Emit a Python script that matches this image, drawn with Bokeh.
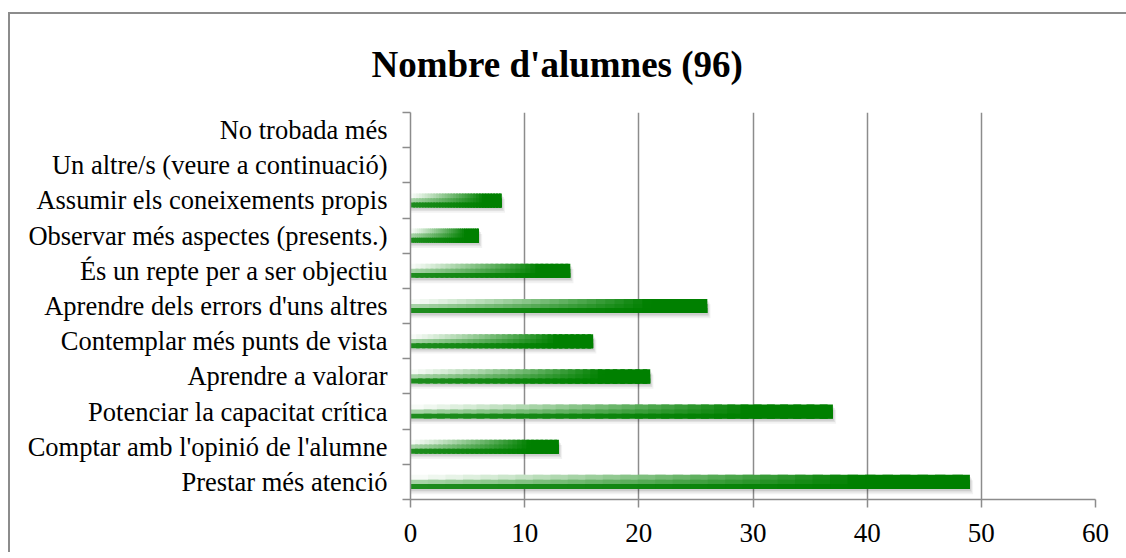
from bokeh.plotting import figure
from bokeh.models import ColumnDataSource, Range1d, FixedTicker
from bokeh.embed import file_html
from bokeh.resources import INLINE

# ---- data (bottom to top) ----
categories = [
    "Prestar més atenció",
    "Comptar amb l'opinió de l'alumne",
    "Potenciar la capacitat crítica",
    "Aprendre a valorar",
    "Contemplar més punts de vista",
    "Aprendre dels errors d'uns altres",
    "És un repte per a ser objectiu",
    "Observar més aspectes (presents.)",
    "Assumir els coneixements propis",
    "Un altre/s (veure a continuació)",
    "No trobada més",
]
values = [49, 13, 37, 21, 16, 26, 14, 6, 8, 0, 0]
x_ticks = [0, 10, 20, 30, 40, 50, 60]
title_text = "Nombre d'alumnes (96)"

GREEN = (0, 128, 0)


def mix(c1, c2, t):
    t = max(0.0, min(1.0, t))
    r = [round(a + (b - a) * t) for a, b in zip(c1, c2)]
    return "#%02x%02x%02x" % tuple(r)


ypos = list(range(1, len(categories) + 1))

# gradient segments built from the data values
N = 32
BAR_H = 0.40
BANDS = [  # (height, start colour at left), top to bottom
    (0.14, (250, 253, 250)),
    (0.12, (168, 212, 168)),
    (0.14, (30, 140, 30)),
]
seg = dict(y=[], h=[], left=[], right=[], c=[])
shadow = dict(y=[], right=[])
for y, v in zip(ypos, values):
    if v <= 0:
        continue
    shadow["y"].append(y)
    shadow["right"].append(v)
    bottom = y - BAR_H / 2
    top = y + BAR_H / 2
    for bh, c0 in BANDS:
        # each band reaches down to the bar bottom; later bands cover it
        h = top - bottom
        yc = bottom + h / 2
        top -= bh
        for k in range(N):
            t = (k + 0.5) / N
            f = min(1.0, t / 0.8) ** 1.1
            seg["y"].append(yc)
            seg["h"].append(h)
            seg["left"].append(v * k / N)
            seg["right"].append(min(v, v * (k + 1.6) / N))
            seg["c"].append(mix(c0, GREEN, f))

src = ColumnDataSource(seg)

p = figure(
    width=1120, height=540,
    x_range=Range1d(0, 60), y_range=Range1d(0.5, len(categories) + 0.5),
    output_backend="svg", toolbar_location=None,
    min_border_left=400, min_border_right=35, min_border_top=94, min_border_bottom=55,
)
p.styles = {
    "margin-top": "12px", "margin-left": "8px",
    "border-top": "2px solid #8c8c8c", "border-left": "2px solid #8c8c8c",
}
p.outline_line_color = None
p.background_fill_color = "white"
p.border_fill_color = "white"

# title
p.title.text = title_text
p.title.text_font = "Liberation Serif"
p.title.text_font_style = "bold"
p.title.text_font_size = "37px"
p.title.align = "left"
p.title.offset = -39
p.title.standoff = 55
p.title.text_color = "black"

# soft shadow
shadow_layers = [(0.15, 0.28, 0.05), (0.10, 0.18, 0.07), (0.06, 0.09, 0.08)]
for dy, dx, a in shadow_layers:
    s = ColumnDataSource(dict(y=[yy - dy for yy in shadow["y"]],
                              right=[r + dx for r in shadow["right"]]))
    p.hbar(y="y", left=0, right="right", height=BAR_H, source=s,
           fill_color="#000000", fill_alpha=a, line_color=None)
# gradient bars
p.hbar(y="y", left="left", right="right", height="h", source=src,
       fill_color="c", line_color=None)

# grid
p.ygrid.grid_line_color = None
p.xgrid.ticker = FixedTicker(ticks=x_ticks)
p.xgrid.grid_line_color = "#8c8c8c"
p.xgrid.grid_line_width = 1.5

# x axis
xa = p.xaxis[0]
xa.ticker = FixedTicker(ticks=x_ticks)
xa.axis_line_color = "#8c8c8c"
xa.axis_line_width = 1.5
xa.major_tick_line_color = "#8c8c8c"
xa.major_tick_line_width = 1.5
xa.major_tick_out = 8
xa.major_tick_in = 0
xa.minor_tick_line_color = None
xa.major_label_text_font = "Liberation Serif"
xa.major_label_text_font_size = "27px"
xa.major_label_text_color = "black"
xa.major_label_standoff = 16

# y axis: labels at category centres, ticks at boundaries
ya = p.yaxis[0]
ya.ticker = FixedTicker(ticks=ypos, minor_ticks=[y - 0.5 for y in ypos] + [len(ypos) + 0.5])
ya.major_label_overrides = {y: c for y, c in zip(ypos, categories)}
ya.axis_line_color = "#8c8c8c"
ya.axis_line_width = 1.5
ya.major_tick_line_color = None
ya.major_tick_out = 0
ya.major_tick_in = 0
ya.minor_tick_line_color = "#8c8c8c"
ya.minor_tick_line_width = 1.5
ya.minor_tick_out = 8
ya.minor_tick_in = 0
ya.major_label_text_font = "Liberation Serif"
ya.major_label_text_font_size = "26.5px"
ya.major_label_text_color = "black"
ya.major_label_standoff = 15

html = file_html(p, INLINE)
html = html.replace("</head>", "<style>html,body{overflow:hidden;}</style></head>", 1)
open("out.html", "w").write(html)
